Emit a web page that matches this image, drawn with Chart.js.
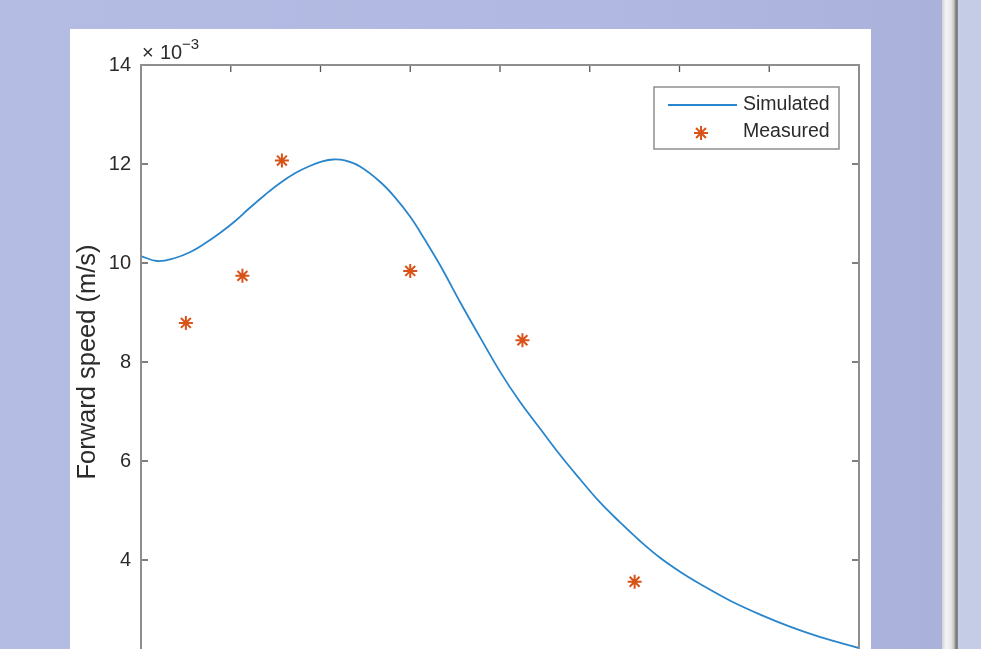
<!DOCTYPE html>
<html>
<head>
<meta charset="utf-8">
<script src="https://cdn.jsdelivr.net/npm/chart.js@4"></script>
<style>
  html, body { margin: 0; padding: 0; width: 981px; height: 649px; overflow: hidden; }
  body { position: relative; background: linear-gradient(to right, #b4bce4 0px, #b1b9e2 600px, #aab2dc 942px); }
  #figure { position: absolute; left: 70px; top: 29px; width: 801px; height: 701px; background: #ffffff; }
  #scrollbar { position: absolute; left: 942px; top: 0; width: 16px; height: 649px;
    background: linear-gradient(to right, #d4d4d4 0px, #f3f3f3 4px, #e8e8e8 9px, #c4c4c4 12px, #767676 14px, #8a8a8a 16px); }
  #side { position: absolute; left: 958px; top: 0; width: 23px; height: 649px; background: #c4cce6; }
</style>
</head>
<body>
<div id="figure"><canvas id="chart"></canvas></div>
<div id="scrollbar"></div>
<div id="side"></div>
<script>
// Simulated forward speed (m/s) against x
const simX = [0, 0.18, 0.38, 0.55, 0.71, 0.88, 1.05, 1.21, 1.38, 1.55, 1.72, 1.88, 2.02, 2.14, 2.27, 2.44, 2.66, 2.83, 3.00, 3.16,
              3.33, 3.55, 3.78, 4.00, 4.22, 4.45, 4.67, 4.89, 5.11, 5.34, 5.56, 5.78, 6.01, 6.23, 6.56, 6.90, 7.23, 7.57, 8.00];
const simY = [0.010141, 0.010040, 0.010101, 0.010222, 0.010394, 0.010606, 0.010848, 0.011111, 0.011374, 0.011616,
              0.011818, 0.011960, 0.012051, 0.012091, 0.012071, 0.011949, 0.011646, 0.011327, 0.010933, 0.010479,
              0.009964, 0.009228, 0.008493, 0.007806, 0.007200, 0.006646, 0.006121, 0.005636, 0.005172, 0.004757,
              0.004384, 0.004050, 0.003758, 0.003515, 0.003182, 0.002897, 0.002655, 0.002444, 0.002222];

// Measured forward speed (m/s)
const measX = [0.5, 1.13, 1.57, 3.0, 4.25, 5.5];
const measY = [0.00879, 0.00974, 0.01207, 0.00984, 0.00844, 0.00356];

// Axis ticks
const xTicks = [0, 1, 2, 3, 4, 5, 6, 7, 8];
const yTicks = [0.002, 0.004, 0.006, 0.008, 0.010, 0.012, 0.014];

const FONT = '"Liberation Sans", Arial, Helvetica, sans-serif';
const TEXT = '#2b2b2b';

// Boxed axes with inward tick marks, exponent label and legend
const matlabAxes = {
  id: 'matlabAxes',
  afterDraw(chart) {
    const { ctx, chartArea: { left, top, right, bottom }, scales: { x, y } } = chart;
    ctx.save();
    // tick marks pointing into the plot on all four sides
    ctx.strokeStyle = '#555555';
    ctx.lineWidth = 1.3;
    ctx.beginPath();
    xTicks.forEach(v => {
      const px = x.getPixelForValue(v);
      ctx.moveTo(px, top); ctx.lineTo(px, top + 7);
      ctx.moveTo(px, bottom); ctx.lineTo(px, bottom - 7);
    });
    yTicks.forEach(v => {
      const py = y.getPixelForValue(v);
      ctx.moveTo(left, py); ctx.lineTo(left + 7, py);
      ctx.moveTo(right, py); ctx.lineTo(right - 7, py);
    });
    ctx.stroke();
    // axes box
    ctx.strokeStyle = '#8e8e8e';
    ctx.lineWidth = 2;
    ctx.strokeRect(left, top, right - left, bottom - top);

    // exponent label
    ctx.fillStyle = TEXT;
    ctx.textBaseline = 'alphabetic';
    ctx.textAlign = 'left';
    ctx.font = '20px ' + FONT;
    ctx.fillText('\u00d7', left + 1, top - 6);
    ctx.fillText('10', left + 19, top - 6);
    ctx.font = '15px ' + FONT;
    ctx.fillText('\u22123', left + 41, top - 16);

    // legend
    const lx = 584, ly = 58, lw = 185, lh = 62;
    ctx.fillStyle = '#ffffff';
    ctx.fillRect(lx, ly, lw, lh);
    ctx.strokeStyle = '#8e8e8e';
    ctx.lineWidth = 1.5;
    ctx.strokeRect(lx, ly, lw, lh);
    const ds = chart.data.datasets;
    ctx.strokeStyle = ds[0].borderColor;
    ctx.lineWidth = ds[0].borderWidth;
    ctx.beginPath();
    ctx.moveTo(lx + 14, ly + 18); ctx.lineTo(lx + 83, ly + 18);
    ctx.stroke();
    ctx.strokeStyle = ds[1].borderColor;
    ctx.fillStyle = ds[1].backgroundColor;
    ctx.lineWidth = ds[1].borderWidth;
    Chart.helpers.drawPoint(ctx, {
      pointStyle: 'star', radius: ds[1].pointRadius, borderWidth: ds[1].borderWidth, rotation: 0
    }, lx + 47, ly + 46);
    ctx.fillStyle = TEXT;
    ctx.font = '19.5px ' + FONT;
    ctx.textBaseline = 'middle';
    ctx.fillText(ds[0].label, lx + 89, ly + 18);
    ctx.fillText(ds[1].label, lx + 89, ly + 45);
    ctx.restore();
  }
};

new Chart(document.getElementById('chart'), {
  type: 'scatter',
  data: {
    datasets: [
      {
        label: 'Simulated',
        data: simX.map((v, i) => ({ x: v, y: simY[i] })),
        showLine: true,
        borderColor: '#2a86cc',
        borderWidth: 1.8,
        pointRadius: 0,
        tension: 0.4,
        fill: false
      },
      {
        label: 'Measured',
        data: measX.map((v, i) => ({ x: v, y: measY[i] })),
        showLine: false,
        pointStyle: 'star',
        pointRadius: 7,
        borderColor: '#D95319',
        backgroundColor: '#D95319',
        borderWidth: 2
      }
    ]
  },
  options: {
    responsive: true,
    maintainAspectRatio: false,
    animation: false,
    devicePixelRatio: 1,
    layout: { padding: { top: 36, right: 12, left: 0, bottom: 0 } },
    plugins: { legend: { display: false }, tooltip: { enabled: false } },
    scales: {
      x: {
        type: 'linear', min: 0, max: 8,
        ticks: { stepSize: 1, color: TEXT, font: { family: FONT, size: 20 } },
        grid: { display: false },
        border: { display: false },
        afterFit(s) { s.height = 71; }
      },
      y: {
        type: 'linear', min: 0.002, max: 0.014,
        ticks: {
          stepSize: 0.002, padding: 2, color: TEXT,
          font: { family: FONT, size: 20 },
          callback: v => Math.round(v * 1000)
        },
        title: {
          display: true, text: 'Forward speed (m/s)', color: TEXT,
          font: { family: FONT, size: 25.5 }, padding: { top: 3, bottom: 0 }
        },
        grid: { display: false },
        border: { display: false },
        afterFit(s) { s.width = 71; }
      }
    }
  },
  plugins: [matlabAxes]
});
</script>
</body>
</html>
